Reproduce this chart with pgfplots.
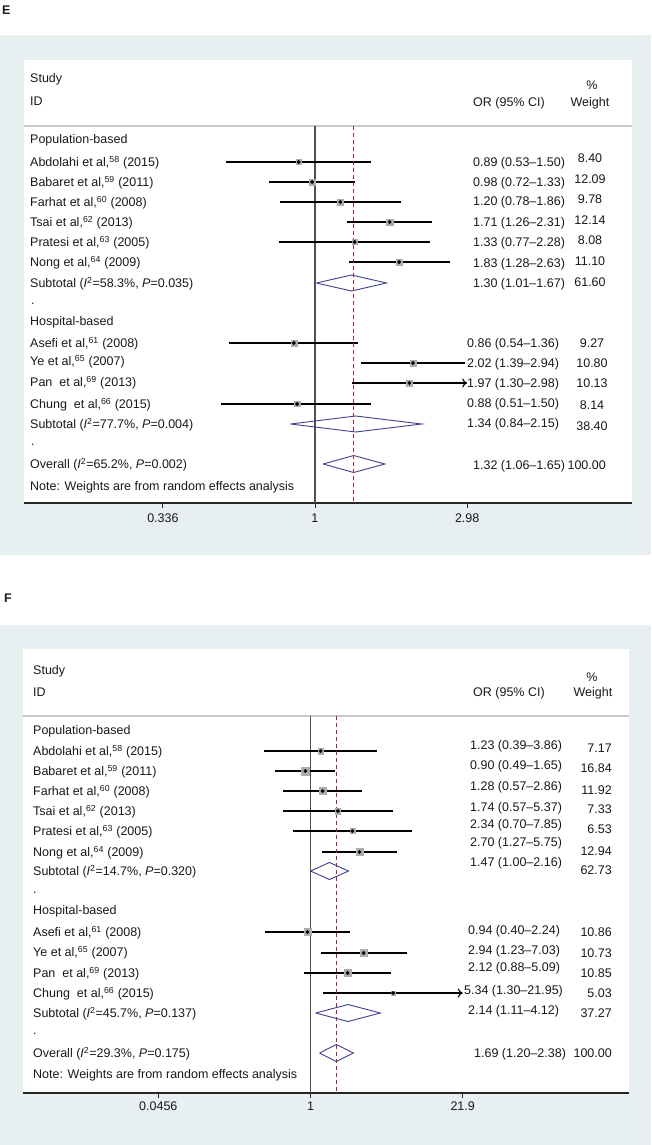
\documentclass[border=0pt]{standalone}
\usepackage{fontspec}
\setmainfont{Liberation Sans}
\usepackage{pgfplots}
\pgfplotsset{compat=1.18}
\usetikzlibrary{arrows.meta}
\definecolor{bg}{RGB}{232,239,241}
\definecolor{boxgray}{RGB}{172,172,172}
\definecolor{diacol}{RGB}{62,62,140}
\definecolor{dashcol}{RGB}{150,40,70}
\definecolor{vcol}{RGB}{80,80,80}
\definecolor{hdr}{RGB}{200,200,200}
\definecolor{txt}{RGB}{25,25,25}
\newcommand{\fs}{\fontsize{12.5}{15}\selectfont}
\pgfplotsset{
  ci/.style={black, line width=1.1pt, no markers},
  cia/.style={black, line width=1.1pt, no markers, -{To[length=5pt,width=9pt]}},
  box/.style={only marks, mark=square*, boxgray},
  dot/.style={only marks, mark=*, mark size=1.7pt, black},
  dia/.style={diacol, line width=0.9pt, no markers},
  vl/.style={vcol, line width=1.5pt, no markers},
  dl/.style={dashcol, dash pattern=on 4pt off 3pt, line width=0.9pt, no markers}
}
\begin{document}
\begin{tikzpicture}[x=1pt,y=1pt,
  lab/.style={anchor=base west, yshift=-4.5pt, font=\fs, text=txt, inner sep=0pt},
  rlab/.style={anchor=base east, yshift=-4.5pt, font=\fs, text=txt, inner sep=0pt},
  clab/.style={anchor=base, yshift=-4.5pt, font=\fs, text=txt, inner sep=0pt}]
\useasboundingbox (0,0) rectangle (651,-1145);
% backgrounds
\fill[bg] (0,-35) rectangle (651,-555);
\fill[white] (24,-60) rectangle (632,-503);
\fill[bg] (0,-625) rectangle (651,-1145);
\fill[white] (23,-649) rectangle (629,-1093);
\draw[hdr, line width=1.5pt] (24,-126) -- (632,-126);
\draw[hdr, line width=1.5pt] (23,-716) -- (629,-716);
\node[lab, font=\fs\bfseries] at (2,-10) {E};
\node[lab, font=\fs\bfseries] at (4,-598) {F};

% ================= PANEL E =================
\begin{axis}[xmode=log, scale only axis, clip=false,
  axis x line*=bottom, axis y line=none,
  axis line style={-, draw=black!85, line width=1.3pt},
  tick align=outside, major tick length=5pt,
  tick style={black!85, line width=0.9pt},
  ytick=\empty, minor xtick={},
  xticklabel style={font=\fs, text=txt, yshift=-2pt},
  at={(24pt,-503pt)}, anchor=south west, width=608pt, height=443pt,
  xmin=0.12403, xmax=9.72, ymin=-503, ymax=-60,
  xtick={0.336,1,2.98}, xticklabels={\mbox{0.336},\mbox{1},\mbox{2.98}}]
\addplot[vl] coordinates {(1,-126) (1,-503)};
% Population-based
\addplot[box, mark size=2.67pt] coordinates {(0.89,-162)};
\addplot[ci] coordinates {(0.53,-162) (1.50,-162)};
\addplot[dot] coordinates {(0.89,-162)};
\addplot[box, mark size=3.2pt] coordinates {(0.98,-182)};
\addplot[ci] coordinates {(0.72,-182) (1.33,-182)};
\addplot[dot] coordinates {(0.98,-182)};
\addplot[box, mark size=2.88pt] coordinates {(1.20,-202)};
\addplot[ci] coordinates {(0.78,-202) (1.86,-202)};
\addplot[dot] coordinates {(1.20,-202)};
\addplot[box, mark size=3.2pt] coordinates {(1.71,-222)};
\addplot[ci] coordinates {(1.26,-222) (2.31,-222)};
\addplot[dot] coordinates {(1.71,-222)};
\addplot[box, mark size=2.6pt] coordinates {(1.33,-242)};
\addplot[ci] coordinates {(0.77,-242) (2.28,-242)};
\addplot[dot] coordinates {(1.33,-242)};
\addplot[box, mark size=3.07pt] coordinates {(1.83,-262)};
\addplot[ci] coordinates {(1.28,-262) (2.63,-262)};
\addplot[dot] coordinates {(1.83,-262)};
\addplot[dia] coordinates {(1.01,-283) (1.30,-275) (1.67,-283) (1.30,-291) (1.01,-283)};
% Hospital-based
\addplot[box, mark size=2.8pt] coordinates {(0.86,-343)};
\addplot[ci] coordinates {(0.54,-343) (1.36,-343)};
\addplot[dot] coordinates {(0.86,-343)};
\addplot[box, mark size=3.02pt] coordinates {(2.02,-363)};
\addplot[ci] coordinates {(1.39,-363) (2.94,-363)};
\addplot[dot] coordinates {(2.02,-363)};
\addplot[box, mark size=2.93pt] coordinates {(1.97,-383)};
\addplot[cia] coordinates {(1.30,-383) (2.98,-383)};
\addplot[dot] coordinates {(1.97,-383)};
\addplot[box, mark size=2.62pt] coordinates {(0.88,-404)};
\addplot[ci] coordinates {(0.51,-404) (1.50,-404)};
\addplot[dot] coordinates {(0.88,-404)};
\addplot[dia] coordinates {(0.84,-424) (1.34,-416) (2.15,-424) (1.34,-432) (0.84,-424)};
% Overall
\addplot[dia] coordinates {(1.06,-464) (1.32,-455.5) (1.65,-464) (1.32,-472.5) (1.06,-464)};
\addplot[dl] coordinates {(1.32,-126) (1.32,-503)};
\end{axis}

% ================= PANEL F =================
\begin{axis}[xmode=log, scale only axis, clip=false,
  axis x line*=bottom, axis y line=none,
  axis line style={-, draw=black!85, line width=1.3pt},
  tick align=outside, major tick length=5pt,
  tick style={black!85, line width=0.9pt},
  ytick=\empty, minor xtick={},
  xticklabel style={font=\fs, text=txt},
  at={(23pt,-1093pt)}, anchor=south west, width=606pt, height=444pt,
  xmin=0.002932, xmax=639, ymin=-1093, ymax=-649,
  xtick={0.0456,1,21.9}, xticklabels={\mbox{0.0456},\mbox{1},\mbox{21.9}}]
\addplot[vl] coordinates {(1,-716) (1,-1093)};
% Population-based
\addplot[box, mark size=2.73pt] coordinates {(1.23,-751)};
\addplot[ci] coordinates {(0.39,-751) (3.86,-751)};
\addplot[dot] coordinates {(1.23,-751)};
\addplot[box, mark size=4.19pt] coordinates {(0.90,-771)};
\addplot[ci] coordinates {(0.49,-771) (1.65,-771)};
\addplot[dot] coordinates {(0.90,-771)};
\addplot[box, mark size=3.52pt] coordinates {(1.28,-791)};
\addplot[ci] coordinates {(0.57,-791) (2.86,-791)};
\addplot[dot] coordinates {(1.28,-791)};
\addplot[box, mark size=2.76pt] coordinates {(1.74,-811)};
\addplot[ci] coordinates {(0.57,-811) (5.37,-811)};
\addplot[dot] coordinates {(1.74,-811)};
\addplot[box, mark size=2.6pt] coordinates {(2.34,-831)};
\addplot[ci] coordinates {(0.70,-831) (7.85,-831)};
\addplot[dot] coordinates {(2.34,-831)};
\addplot[box, mark size=3.67pt] coordinates {(2.70,-852)};
\addplot[ci] coordinates {(1.27,-852) (5.75,-852)};
\addplot[dot] coordinates {(2.70,-852)};
\addplot[dia] coordinates {(1.00,-871) (1.47,-862.5) (2.16,-871) (1.47,-879.5) (1.00,-871)};
% Hospital-based
\addplot[box, mark size=3.36pt] coordinates {(0.94,-932)};
\addplot[ci] coordinates {(0.40,-932) (2.24,-932)};
\addplot[dot] coordinates {(0.94,-932)};
\addplot[box, mark size=3.34pt] coordinates {(2.94,-953)};
\addplot[ci] coordinates {(1.23,-953) (7.03,-953)};
\addplot[dot] coordinates {(2.94,-953)};
\addplot[box, mark size=3.36pt] coordinates {(2.12,-973)};
\addplot[ci] coordinates {(0.88,-973) (5.09,-973)};
\addplot[dot] coordinates {(2.12,-973)};
\addplot[box, mark size=2.29pt] coordinates {(5.34,-993)};
\addplot[cia] coordinates {(1.30,-993) (21.95,-993)};
\addplot[dot] coordinates {(5.34,-993)};
\addplot[dia] coordinates {(1.11,-1013) (2.14,-1004.5) (4.12,-1013) (2.14,-1021.5) (1.11,-1013)};
% Overall
\addplot[dia] coordinates {(1.20,-1053) (1.69,-1044.5) (2.38,-1053) (1.69,-1061.5) (1.20,-1053)};
\addplot[dl] coordinates {(1.69,-716) (1.69,-1093)};
\end{axis}

% ---------- Panel E texts ----------
\node[lab] at (30,-78) {Study};
\node[lab] at (30,-101) {ID};
\node[lab] at (473,-102) {OR (95\% CI)};
\node[clab] at (592,-85) {\%};
\node[clab] at (590,-102) {Weight};
\node[lab] at (30,-139) {Population-based};
\node[lab] at (30,-162) {Abdolahi et al,\textsuperscript{58} (2015)};
\node[lab] at (30,-182) {Babaret et al,\textsuperscript{59} (2011)};
\node[lab] at (30,-202) {Farhat et al,\textsuperscript{60} (2008)};
\node[lab] at (30,-222) {Tsai et al,\textsuperscript{62} (2013)};
\node[lab] at (30,-242) {Pratesi et al,\textsuperscript{63} (2005)};
\node[lab] at (30,-262) {Nong et al,\textsuperscript{64} (2009)};
\node[lab] at (30,-283) {Subtotal (\textit{I}\textsuperscript{2}=58.3\%, \textit{P}=0.035)};
\node[lab] at (31,-300) {.};
\node[lab] at (30,-321) {Hospital-based};
\node[lab] at (30,-343) {Asefi et al,\textsuperscript{61} (2008)};
\node[lab] at (30,-361) {Ye et al,\textsuperscript{65} (2007)};
\node[lab] at (30,-382) {Pan\ \ et al,\textsuperscript{69} (2013)};
\node[lab] at (30,-404) {Chung\ \ et al,\textsuperscript{66} (2015)};
\node[lab] at (30,-424) {Subtotal (\textit{I}\textsuperscript{2}=77.7\%, \textit{P}=0.004)};
\node[lab] at (31,-441) {.};
\node[lab] at (30,-464) {Overall (\textit{I}\textsuperscript{2}=65.2\%, \textit{P}=0.002)};
\node[lab] at (30,-486) {Note: Weights are from random effects analysis};
% OR column
\node[lab] at (473,-162) {0.89 (0.53\textendash1.50)};
\node[lab] at (473,-182) {0.98 (0.72\textendash1.33)};
\node[lab] at (473,-201) {1.20 (0.78\textendash1.86)};
\node[lab] at (473,-222) {1.71 (1.26\textendash2.31)};
\node[lab] at (473,-242) {1.33 (0.77\textendash2.28)};
\node[lab] at (473,-263) {1.83 (1.28\textendash2.63)};
\node[lab] at (473,-283) {1.30 (1.01\textendash1.67)};
\node[lab] at (467,-343) {0.86 (0.54\textendash1.36)};
\node[lab] at (467,-363) {2.02 (1.39\textendash2.94)};
\node[lab] at (467,-383) {1.97 (1.30\textendash2.98)};
\node[lab] at (467,-403) {0.88 (0.51\textendash1.50)};
\node[lab] at (467,-423) {1.34 (0.84\textendash2.15)};
\node[lab] at (473,-465) {1.32 (1.06\textendash1.65)};
% weights
\node[clab] at (590,-158) {8.40};
\node[clab] at (590,-179) {12.09};
\node[clab] at (590,-199) {9.78};
\node[clab] at (590,-220) {12.14};
\node[clab] at (590,-240) {8.08};
\node[clab] at (590,-261) {11.10};
\node[clab] at (590,-282) {61.60};
\node[clab] at (592,-343) {9.27};
\node[clab] at (592,-363) {10.80};
\node[clab] at (592,-383) {10.13};
\node[clab] at (592,-405) {8.14};
\node[clab] at (592,-426) {38.40};
\node[rlab] at (606,-465) {100.00};

% ---------- Panel F texts ----------
\node[lab] at (33,-670) {Study};
\node[lab] at (33,-692) {ID};
\node[lab] at (473,-692) {OR (95\% CI)};
\node[clab] at (592,-677) {\%};
\node[clab] at (593,-692) {Weight};
\node[lab] at (33,-730) {Population-based};
\node[lab] at (33,-751) {Abdolahi et al,\textsuperscript{58} (2015)};
\node[lab] at (33,-771) {Babaret et al,\textsuperscript{59} (2011)};
\node[lab] at (33,-791) {Farhat et al,\textsuperscript{60} (2008)};
\node[lab] at (33,-811) {Tsai et al,\textsuperscript{62} (2013)};
\node[lab] at (33,-831) {Pratesi et al,\textsuperscript{63} (2005)};
\node[lab] at (33,-852) {Nong et al,\textsuperscript{64} (2009)};
\node[lab] at (33,-871) {Subtotal (\textit{I}\textsuperscript{2}=14.7\%, \textit{P}=0.320)};
\node[lab] at (33,-889) {.};
\node[lab] at (33,-910) {Hospital-based};
\node[lab] at (33,-932) {Asefi et al,\textsuperscript{61} (2008)};
\node[lab] at (33,-952) {Ye et al,\textsuperscript{65} (2007)};
\node[lab] at (33,-973) {Pan\ \ et al,\textsuperscript{69} (2013)};
\node[lab] at (33,-993) {Chung\ \ et al,\textsuperscript{66} (2015)};
\node[lab] at (33,-1013) {Subtotal (\textit{I}\textsuperscript{2}=45.7\%, \textit{P}=0.137)};
\node[lab] at (33,-1030) {.};
\node[lab] at (33,-1053) {Overall (\textit{I}\textsuperscript{2}=29.3\%, \textit{P}=0.175)};
\node[lab] at (33,-1074) {Note: Weights are from random effects analysis};
% OR column
\node[lab] at (470,-745) {1.23 (0.39\textendash3.86)};
\node[lab] at (470,-765) {0.90 (0.49\textendash1.65)};
\node[lab] at (470,-786) {1.28 (0.57\textendash2.86)};
\node[lab] at (470,-807) {1.74 (0.57\textendash5.37)};
\node[lab] at (470,-824) {2.34 (0.70\textendash7.85)};
\node[lab] at (470,-842) {2.70 (1.27\textendash5.75)};
\node[lab] at (470,-862) {1.47 (1.00\textendash2.16)};
\node[lab] at (468,-930) {0.94 (0.40\textendash2.24)};
\node[lab] at (468,-950) {2.94 (1.23\textendash7.03)};
\node[lab] at (468,-967) {2.12 (0.88\textendash5.09)};
\node[lab] at (464,-990) {5.34 (1.30\textendash21.95)};
\node[lab] at (468,-1010) {2.14 (1.11\textendash4.12)};
\node[lab] at (474,-1053) {1.69 (1.20\textendash2.38)};
% weights
\node[rlab] at (612,-748) {7.17};
\node[rlab] at (612,-768) {16.84};
\node[rlab] at (612,-790) {11.92};
\node[rlab] at (612,-809) {7.33};
\node[rlab] at (612,-829) {6.53};
\node[rlab] at (612,-851) {12.94};
\node[rlab] at (612,-870) {62.73};
\node[rlab] at (612,-932) {10.86};
\node[rlab] at (612,-953) {10.73};
\node[rlab] at (612,-973) {10.85};
\node[rlab] at (612,-993) {5.03};
\node[rlab] at (612,-1013) {37.27};
\node[rlab] at (612,-1053) {100.00};
\end{tikzpicture}
\end{document}
